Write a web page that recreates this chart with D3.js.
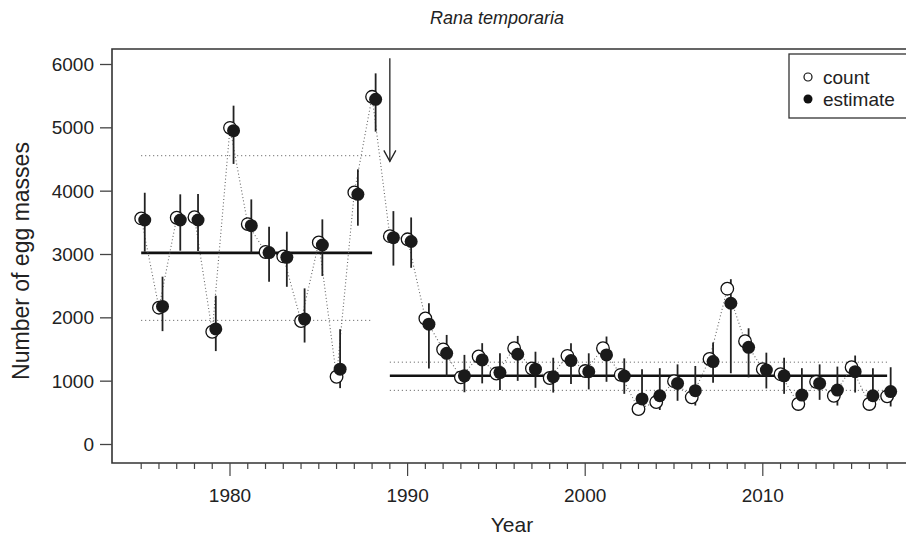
<!DOCTYPE html>
<html>
<head>
<meta charset="utf-8">
<script src="https://cdn.jsdelivr.net/npm/d3@7"></script>
<style>
  body { margin: 0; background: #fff; }
  svg { display: block; font-family: "Liberation Sans", Arial, sans-serif; }
</style>
</head>
<body>
<svg id="chart" width="906" height="535"></svg>
<script>
// Data
const years = d3.range(1975, 2018);
const counts = [3570, 2160, 3580, 3590, 1780, 5000, 3480, 3040, 2970, 1950, 3190, 1070, 3980, 5490,
  3290, 3240, 1990, 1500, 1060, 1390, 1120, 1520, 1200, 1050, 1400, 1160, 1520, 1100, 560, 670,
  1000, 745, 1350, 2460, 1630, 1190, 1110, 640, 990, 770, 1220, 640, 760];
const estimates = [3545, 2180, 3545, 3545, 1825, 4955, 3455, 3030, 2955, 1980, 3150, 1190, 3950, 5450,
  3265, 3205, 1900, 1440, 1085, 1335, 1135, 1425, 1190, 1070, 1325, 1150, 1415, 1080, 720, 770,
  965, 850, 1310, 2230, 1535, 1175, 1085, 780, 965, 860, 1150, 770, 835];
const lower = [3045, 1790, 3060, 3055, 1475, 4430, 3025, 2570, 2490, 1610, 2660, 890, 3455, 4940,
  2825, 2790, 1200, 1070, 825, 965, 860, 1005, 895, 820, 955, 870, 990, 800, 530, 545,
  690, 615, 975, 1125, 1060, 885, 800, 570, 705, 615, 820, 600, 600];
const upper = [3975, 2650, 3950, 3955, 2350, 5350, 3870, 3440, 3360, 2465, 3555, 1820, 4345, 5860,
  3685, 3585, 2230, 1730, 1415, 1600, 1440, 1715, 1465, 1370, 1600, 1440, 1705, 1360, 1190, 1205,
  1265, 1240, 1610, 2610, 1835, 1450, 1370, 1205, 1265, 1230, 1405, 1205, 1220];

// Period levels: [startYear, endYear, mean, lowerBound, upperBound]
const periods = [
  [1975, 1988, 3025, 1960, 4560],
  [1989, 2017, 1085, 855, 1300]
];
const breakYear = 1989;
const arrowFrom = 6100, arrowTo = 4470;

const xTicks = [1980, 1990, 2000, 2010];
const yTicks = [0, 1000, 2000, 3000, 4000, 5000, 6000];

const svg = d3.select('#chart');
const plot = { left: 112, top: 49, right: 914, bottom: 463 };
const dark = '#222';

const x = d3.scaleLinear().domain([1980, 2010]).range([230, 762.8]);
const y = d3.scaleLinear().domain([0, 6000]).range([444.5, 64.5]);
const dodge = 0.2;

const rows = years.map((yr, i) => ({ yr, c: counts[i], e: estimates[i], lo: lower[i], hi: upper[i] }));

// Period level lines (dotted bounds, solid mean)
periods.forEach(([a, b, m, lo, hi]) => {
  [lo, hi].forEach(v => {
    svg.append('line')
      .attr('x1', x(a)).attr('x2', x(b))
      .attr('y1', y(v)).attr('y2', y(v))
      .attr('stroke', '#555').attr('stroke-width', 1)
      .attr('stroke-dasharray', '1,3');
  });
  svg.append('line')
    .attr('x1', x(a)).attr('x2', x(b))
    .attr('y1', y(m)).attr('y2', y(m))
    .attr('stroke', '#111').attr('stroke-width', 2.6);
});

// Dotted line joining the counts
svg.append('path')
  .datum(rows)
  .attr('d', d3.line().x(d => x(d.yr)).y(d => y(d.c)))
  .attr('fill', 'none')
  .attr('stroke', '#666')
  .attr('stroke-width', 1.1)
  .attr('stroke-dasharray', '1,2.4');

// Error bars
svg.append('g').selectAll('line')
  .data(rows)
  .join('line')
  .attr('x1', d => x(d.yr + dodge)).attr('x2', d => x(d.yr + dodge))
  .attr('y1', d => y(d.lo)).attr('y2', d => y(d.hi))
  .attr('stroke', dark).attr('stroke-width', 1.8);

// Counts (open) and estimates (filled)
svg.append('g').selectAll('circle')
  .data(rows)
  .join('circle')
  .attr('cx', d => x(d.yr)).attr('cy', d => y(d.c))
  .attr('r', 6.3)
  .attr('fill', '#fff').attr('stroke', '#111').attr('stroke-width', 1.3);

svg.append('g').selectAll('circle')
  .data(rows)
  .join('circle')
  .attr('cx', d => x(d.yr + dodge)).attr('cy', d => y(d.e))
  .attr('r', 6.5)
  .attr('fill', '#1a1a1a');

// Break arrow
const ax = x(breakYear);
svg.append('line')
  .attr('x1', ax).attr('x2', ax)
  .attr('y1', y(arrowFrom)).attr('y2', y(arrowTo))
  .attr('stroke', dark).attr('stroke-width', 1.3);
svg.append('path')
  .attr('d', `M${ax - 6},${y(arrowTo) - 11}L${ax},${y(arrowTo)}L${ax + 6},${y(arrowTo) - 11}`)
  .attr('fill', 'none').attr('stroke', dark).attr('stroke-width', 1.3);

// Frame
svg.append('path')
  .attr('d', `M${plot.right},${plot.top}H${plot.left}V${plot.bottom}H${plot.right}`)
  .attr('fill', 'none').attr('stroke', '#333').attr('stroke-width', 1.6);

// Y axis ticks
const yAxis = svg.append('g');
yTicks.forEach(t => {
  yAxis.append('line')
    .attr('x1', plot.left - 12).attr('x2', plot.left)
    .attr('y1', y(t)).attr('y2', y(t))
    .attr('stroke', '#444').attr('stroke-width', 1.3);
  yAxis.append('text')
    .attr('x', plot.left - 18).attr('y', y(t))
    .attr('dy', '0.35em')
    .attr('text-anchor', 'end')
    .attr('font-size', 19).attr('fill', '#222')
    .text(t);
});

// X axis ticks (minor every year, labelled every decade)
const xAxis = svg.append('g');
years.forEach(yr => {
  xAxis.append('line')
    .attr('x1', x(yr)).attr('x2', x(yr))
    .attr('y1', plot.bottom).attr('y2', plot.bottom + (xTicks.includes(yr) ? 13 : 6))
    .attr('stroke', '#444').attr('stroke-width', 1.2);
});
xTicks.forEach(t => {
  xAxis.append('text')
    .attr('x', x(t)).attr('y', plot.bottom + 39)
    .attr('text-anchor', 'middle')
    .attr('font-size', 19).attr('fill', '#222')
    .text(t);
});

// Titles
svg.append('text')
  .attr('x', 497).attr('y', 24)
  .attr('text-anchor', 'middle')
  .attr('font-size', 18).attr('font-style', 'italic').attr('fill', '#222')
  .text('Rana temporaria');
svg.append('text')
  .attr('x', 512).attr('y', 532)
  .attr('text-anchor', 'middle')
  .attr('font-size', 21).attr('fill', '#222')
  .text('Year');
svg.append('text')
  .attr('transform', 'translate(29,261) rotate(-90)')
  .attr('text-anchor', 'middle')
  .attr('font-size', 23).attr('fill', '#222')
  .text('Number of egg masses');

// Legend
const legend = svg.append('g');
legend.append('rect')
  .attr('x', 789).attr('y', 54).attr('width', 130).attr('height', 64)
  .attr('fill', '#fff').attr('stroke', '#333').attr('stroke-width', 1.3);
legend.append('circle').attr('cx', 808).attr('cy', 77).attr('r', 4)
  .attr('fill', '#fff').attr('stroke', '#111').attr('stroke-width', 1.2);
legend.append('circle').attr('cx', 808).attr('cy', 99).attr('r', 4.5).attr('fill', '#111');
legend.append('text').attr('x', 823).attr('y', 77).attr('dy', '0.35em')
  .attr('font-size', 19).attr('fill', '#222').text('count');
legend.append('text').attr('x', 823).attr('y', 99).attr('dy', '0.35em')
  .attr('font-size', 19).attr('fill', '#222').text('estimate');
</script>
</body>
</html>
